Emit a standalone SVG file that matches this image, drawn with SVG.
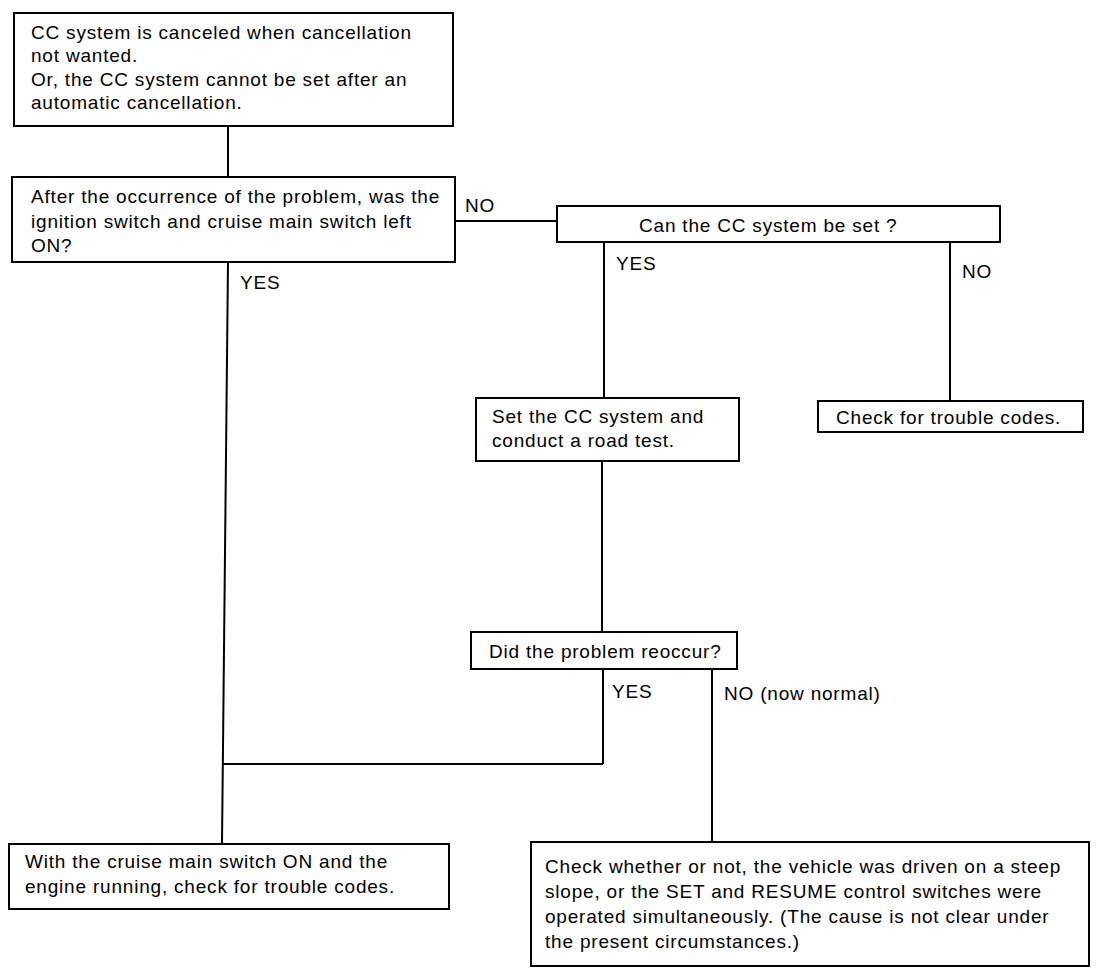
<svg xmlns="http://www.w3.org/2000/svg" width="1097" height="979" viewBox="0 0 1097 979">
<style>
.box{fill:#fff;stroke:#000;stroke-width:2}
.ln{fill:none;stroke:#000;stroke-width:2}
text{font-family:"Liberation Sans",Arial,sans-serif;font-size:19px;letter-spacing:0.8px;fill:#000}
</style>
<rect width="1097" height="979" fill="#fff"/>
<g id="connectors">
<line class="ln" x1="228" y1="126" x2="228" y2="177"/>
<line class="ln" x1="228" y1="262" x2="222" y2="844"/>
<line class="ln" x1="455" y1="221" x2="557" y2="221"/>
<line class="ln" x1="604" y1="242" x2="604" y2="398"/>
<line class="ln" x1="950" y1="242" x2="950" y2="401"/>
<line class="ln" x1="602" y1="461" x2="602" y2="632"/>
<line class="ln" x1="603" y1="669" x2="603" y2="764"/>
<line class="ln" x1="222" y1="764" x2="603" y2="764"/>
<line class="ln" x1="712" y1="669" x2="712" y2="842"/>
<text x="465" y="212">NO</text>
<text x="240" y="289">YES</text>
<text x="616" y="270">YES</text>
<text x="962" y="278">NO</text>
<text x="612" y="698">YES</text>
<text x="724" y="700">NO (now normal)</text>
</g>
<g id="n1">
<rect class="box" x="14" y="13" width="439" height="113"/>
<text x="31" y="39">CC system is canceled when cancellation</text>
<text x="31" y="62">not wanted.</text>
<text x="31" y="86">Or, the CC system cannot be set after an</text>
<text x="31" y="109">automatic cancellation.</text>
</g>
<g id="n2">
<rect class="box" x="12" y="177" width="443" height="85"/>
<text x="31" y="203">After the occurrence of the problem, was the</text>
<text x="31" y="228">ignition switch and cruise main switch left</text>
<text x="31" y="252">ON?</text>
</g>
<g id="n3">
<rect class="box" x="557" y="206" width="443" height="36"/>
<text x="639" y="232">Can the CC system be set ?</text>
</g>
<g id="n4">
<rect class="box" x="476" y="398" width="263" height="63"/>
<text x="492" y="423">Set the CC system and</text>
<text x="492" y="447">conduct a road test.</text>
</g>
<g id="n5">
<rect class="box" x="818" y="401" width="265" height="31"/>
<text x="836" y="424">Check for trouble codes.</text>
</g>
<g id="n6">
<rect class="box" x="471" y="632" width="266" height="37"/>
<text x="489" y="658">Did the problem reoccur?</text>
</g>
<g id="n7">
<rect class="box" x="9" y="844" width="440" height="65"/>
<text x="25" y="868">With the cruise main switch ON and the</text>
<text x="25" y="893">engine running, check for trouble codes.</text>
</g>
<g id="n8">
<rect class="box" x="531" y="842" width="558" height="124"/>
<text x="545" y="873">Check whether or not, the vehicle was driven on a steep</text>
<text x="545" y="898">slope, or the SET and RESUME control switches were</text>
<text x="545" y="923">operated simultaneously. (The cause is not clear under</text>
<text x="545" y="948">the present circumstances.)</text>
</g>
</svg>
